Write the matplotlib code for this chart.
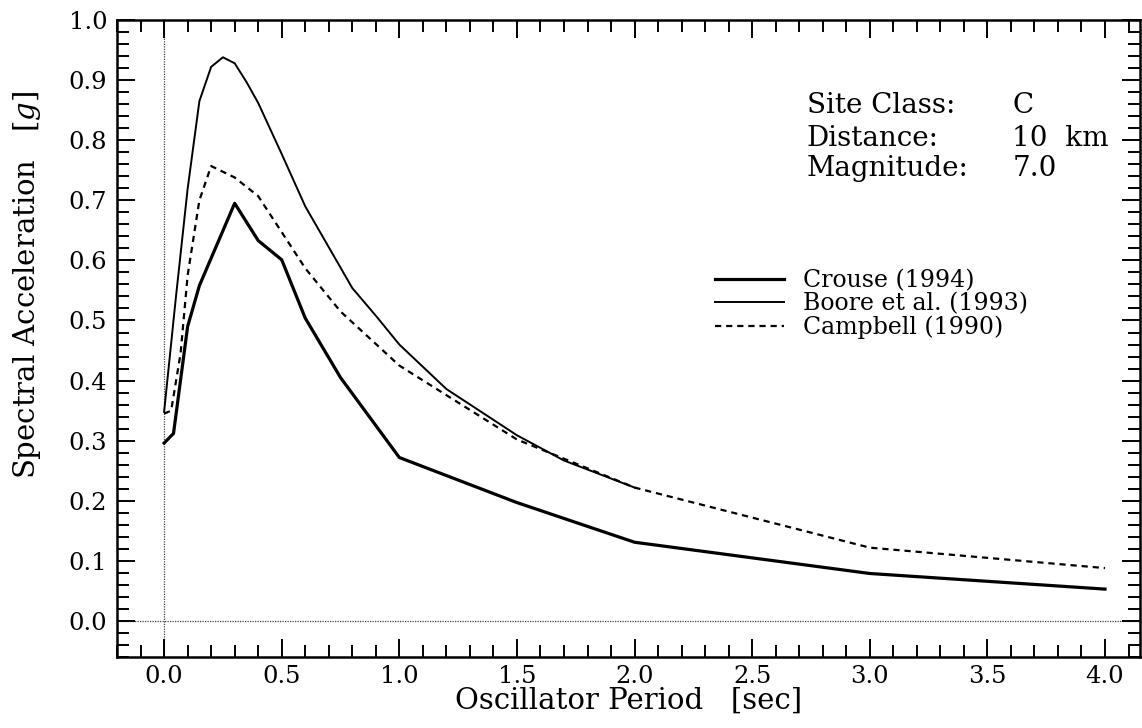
# -*- coding: utf-8 -*-
import matplotlib
matplotlib.use('Agg')
import matplotlib.pyplot as plt
from matplotlib.ticker import MultipleLocator, FormatStrFormatter

# spectral acceleration [g] vs oscillator period [sec]
period_crouse = [0.0, 0.04, 0.1, 0.15, 0.3, 0.4, 0.5, 0.6, 0.75, 1.0, 1.5, 2.0, 3.0, 4.0]
sa_crouse = [0.296, 0.312, 0.49, 0.558, 0.695, 0.633, 0.601, 0.504, 0.405, 0.272, 0.197, 0.131, 0.079, 0.053]

period_boore = [0.0, 0.05, 0.1, 0.15, 0.2, 0.25, 0.3, 0.35, 0.4, 0.5, 0.6, 0.7, 0.8, 0.9, 1.0, 1.2, 1.5, 1.7, 2.0]
sa_boore = [0.348, 0.538, 0.719, 0.865, 0.922, 0.938, 0.928, 0.897, 0.862, 0.777, 0.69, 0.622, 0.554, 0.508, 0.46, 0.386, 0.309, 0.267, 0.222]

period_campbell = [0.0, 0.03, 0.07, 0.1, 0.15, 0.2, 0.3, 0.4, 0.5, 0.6, 0.75, 1.0, 1.5, 2.0, 3.0, 4.0]
sa_campbell = [0.345, 0.35, 0.445, 0.575, 0.70, 0.757, 0.738, 0.707, 0.647, 0.587, 0.515, 0.425, 0.302, 0.222, 0.122, 0.088]

site_keys = ['Site Class:', 'Distance:', 'Magnitude:']
site_vals = ['C', '10  km', '7.0']

plt.rcParams['font.family'] = ['DejaVu Serif']
plt.rcParams['mathtext.fontset'] = 'dejavuserif'

fig = plt.figure(figsize=(11.42, 7.28), dpi=100)
ax = fig.add_axes([0.1025, 0.0975, 0.896, 0.875])

# dotted zero lines
ax.axvline(0.0, color='0.25', lw=0.9, ls=(0, (1, 1)), zorder=1)
ax.axhline(0.0, color='0.25', lw=0.9, ls=(0, (1, 1)), zorder=1)

ax.plot(period_crouse, sa_crouse, color='black', lw=2.3, label='Crouse (1994)')
ax.plot(period_boore, sa_boore, color='black', lw=1.4, label='Boore et al. (1993)')
ax.plot(period_campbell, sa_campbell, color='black', lw=1.6, ls=(0, (2.8, 2.2)),
        label='Campbell (1990)')

ax.set_xlim(-0.2, 4.15)
ax.set_ylim(-0.06, 1.0)

ax.xaxis.set_major_locator(MultipleLocator(0.5))
ax.xaxis.set_minor_locator(MultipleLocator(0.1))
ax.yaxis.set_major_locator(MultipleLocator(0.1))
ax.yaxis.set_minor_locator(MultipleLocator(0.02))
ax.xaxis.set_major_formatter(FormatStrFormatter('%.1f'))
ax.yaxis.set_major_formatter(FormatStrFormatter('%.1f'))

ax.tick_params(which='both', direction='in', top=True, right=True, width=1.4)
ax.tick_params(which='major', length=13, labelsize=17.5)
ax.tick_params(which='minor', length=8.5)
ax.tick_params(axis='x', which='major', pad=6)
ax.tick_params(axis='y', which='major', pad=7)
for s in ax.spines.values():
    s.set_linewidth(1.8)

ax.set_xlabel('Oscillator Period   [sec]', fontsize=21)
ax.xaxis.set_label_coords(0.5, -0.047)
ax.set_ylabel(r'Spectral Acceleration   [$g$]', fontsize=21)
ax.yaxis.set_label_coords(-0.072, 0.585)

# site info, two aligned columns
ys = [0.854, 0.802, 0.755]
for k, v, y in zip(site_keys, site_vals, ys):
    ax.text(0.674, y, k, transform=ax.transAxes, fontsize=20, va='baseline', ha='left')
    ax.text(0.875, y, v, transform=ax.transAxes, fontsize=20, va='baseline', ha='left')

ax.legend(loc='center left', bbox_to_anchor=(0.5846, 0.554), frameon=False,
          fontsize=17, handlelength=2.9, handletextpad=0.8, labelspacing=0.0,
          borderpad=0, borderaxespad=0)

fig.savefig('out.png', dpi=100)
